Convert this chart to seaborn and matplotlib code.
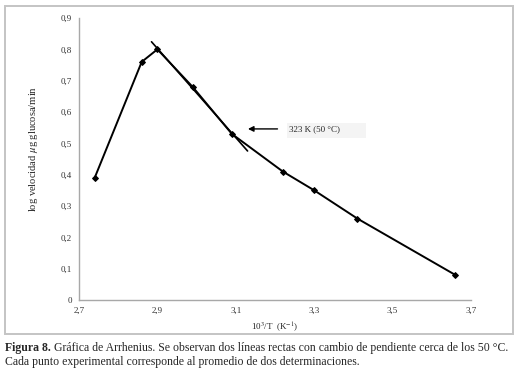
import numpy as np
import pandas as pd
import matplotlib
matplotlib.use("Agg")
import matplotlib.pyplot as plt
from matplotlib.patches import Rectangle
import seaborn as sns

# data (10^3/T vs log rate)
inv_temp = [2.74, 2.86, 2.90, 2.99, 3.09, 3.22, 3.30, 3.41, 3.66]
log_rate = [0.39, 0.76, 0.80, 0.68, 0.53, 0.41, 0.35, 0.26, 0.08]
# points used for the straight line drawn above 50 C, and its extent
fit_idx = [2, 3, 4]
fit_span = [2.885, 3.13]

x_ticks = [2.7, 2.9, 3.1, 3.3, 3.5, 3.7]
x_ticklabels = ["2,7", "2,9", "3,1", "3,3", "3,5", "3,7"]
y_ticks = [0, 0.1, 0.2, 0.3, 0.4, 0.5, 0.6, 0.7, 0.8, 0.9]
y_ticklabels = ["0", "0,1", "0,2", "0,3", "0,4", "0,5", "0,6", "0,7", "0,8", "0,9"]

df = pd.DataFrame({"x": inv_temp, "y": log_rate})

sns.set_style("white")
plt.rcParams["font.family"] = ["Liberation Serif", "DejaVu Serif"]
plt.rcParams["mathtext.fontset"] = "stix"

W, H = 517, 370
fig = plt.figure(figsize=(W / 100, H / 100), dpi=100)
ax = fig.add_axes([79 / W, 1 - 300 / H, 392 / W, 282 / H])

sns.lineplot(data=df, x="x", y="y", ax=ax, color="black", linewidth=1.4,
             marker="D", markersize=3.0, markeredgecolor="black", sort=False)

# straight-line fit through the high temperature points
coef = np.polyfit([inv_temp[i] for i in fit_idx], [log_rate[i] for i in fit_idx], 1)
xs = np.array(fit_span)
ax.plot(xs, np.polyval(coef, xs), color="black", linewidth=1.2)

ax.set_xlim(2.7, 3.7)
ax.set_ylim(0, 0.9)
ax.set_xticks(x_ticks)
ax.set_xticklabels(x_ticklabels)
ax.set_yticks(y_ticks)
ax.set_yticklabels(y_ticklabels)
ax.tick_params(axis="both", labelsize=6.5, labelcolor="#333333", color="#a0a0a0",
               length=3, width=0.8, direction="out", pad=2)
for s in ["top", "right"]:
    ax.spines[s].set_visible(False)
for s in ["left", "bottom"]:
    ax.spines[s].set_color("#a8a8a8")
    ax.spines[s].set_linewidth(1.0)

ax.set_xlabel(r"10$^3$/T  (K$^{-1}$)", fontsize=6.5, labelpad=4)
ax.set_ylabel(r"log velocidad $\mu$g glucosa/min", fontsize=7.6)
ax.yaxis.set_label_coords(-0.1, 0.535)

# pale box behind the annotation text
ax.add_patch(Rectangle((287 / W, 1 - 138 / H), 79 / W, 15 / H,
                       transform=fig.transFigure, fc="#f4f4f4", ec="none",
                       zorder=0.5, clip_on=False))
ax.annotate("323 K (50 °C)", xy=(3.131, 0.546), xytext=(3.236, 0.546),
            fontsize=6.5, va="center", ha="left", zorder=5,
            arrowprops=dict(arrowstyle="-|>", color="black", lw=1.0,
                            mutation_scale=8, shrinkA=6, shrinkB=0))

# light grey frame round the chart
fig.patches.append(Rectangle((5 / W, 1 - 334 / H), 508 / W, 328 / H,
                             transform=fig.transFigure, fill=False,
                             ec="#c4c4c4", lw=1.4))

t1 = fig.text(5 / W, 1 - 348 / H, "Figura 8.", fontsize=8.5,
              fontweight="bold", va="center", ha="left")
ax.annotate(" Gráfica de Arrhenius. Se observan dos líneas rectas con cambio de pendiente cerca de los 50 °C.",
            xy=(1, 0.5), xycoords=t1, fontsize=8.5, va="center", ha="left",
            annotation_clip=False)
fig.text(5 / W, 1 - 362 / H,
         "Cada punto experimental corresponde al promedio de dos determinaciones.",
         fontsize=8.5, va="center", ha="left")

fig.savefig("out.png", dpi=100)
